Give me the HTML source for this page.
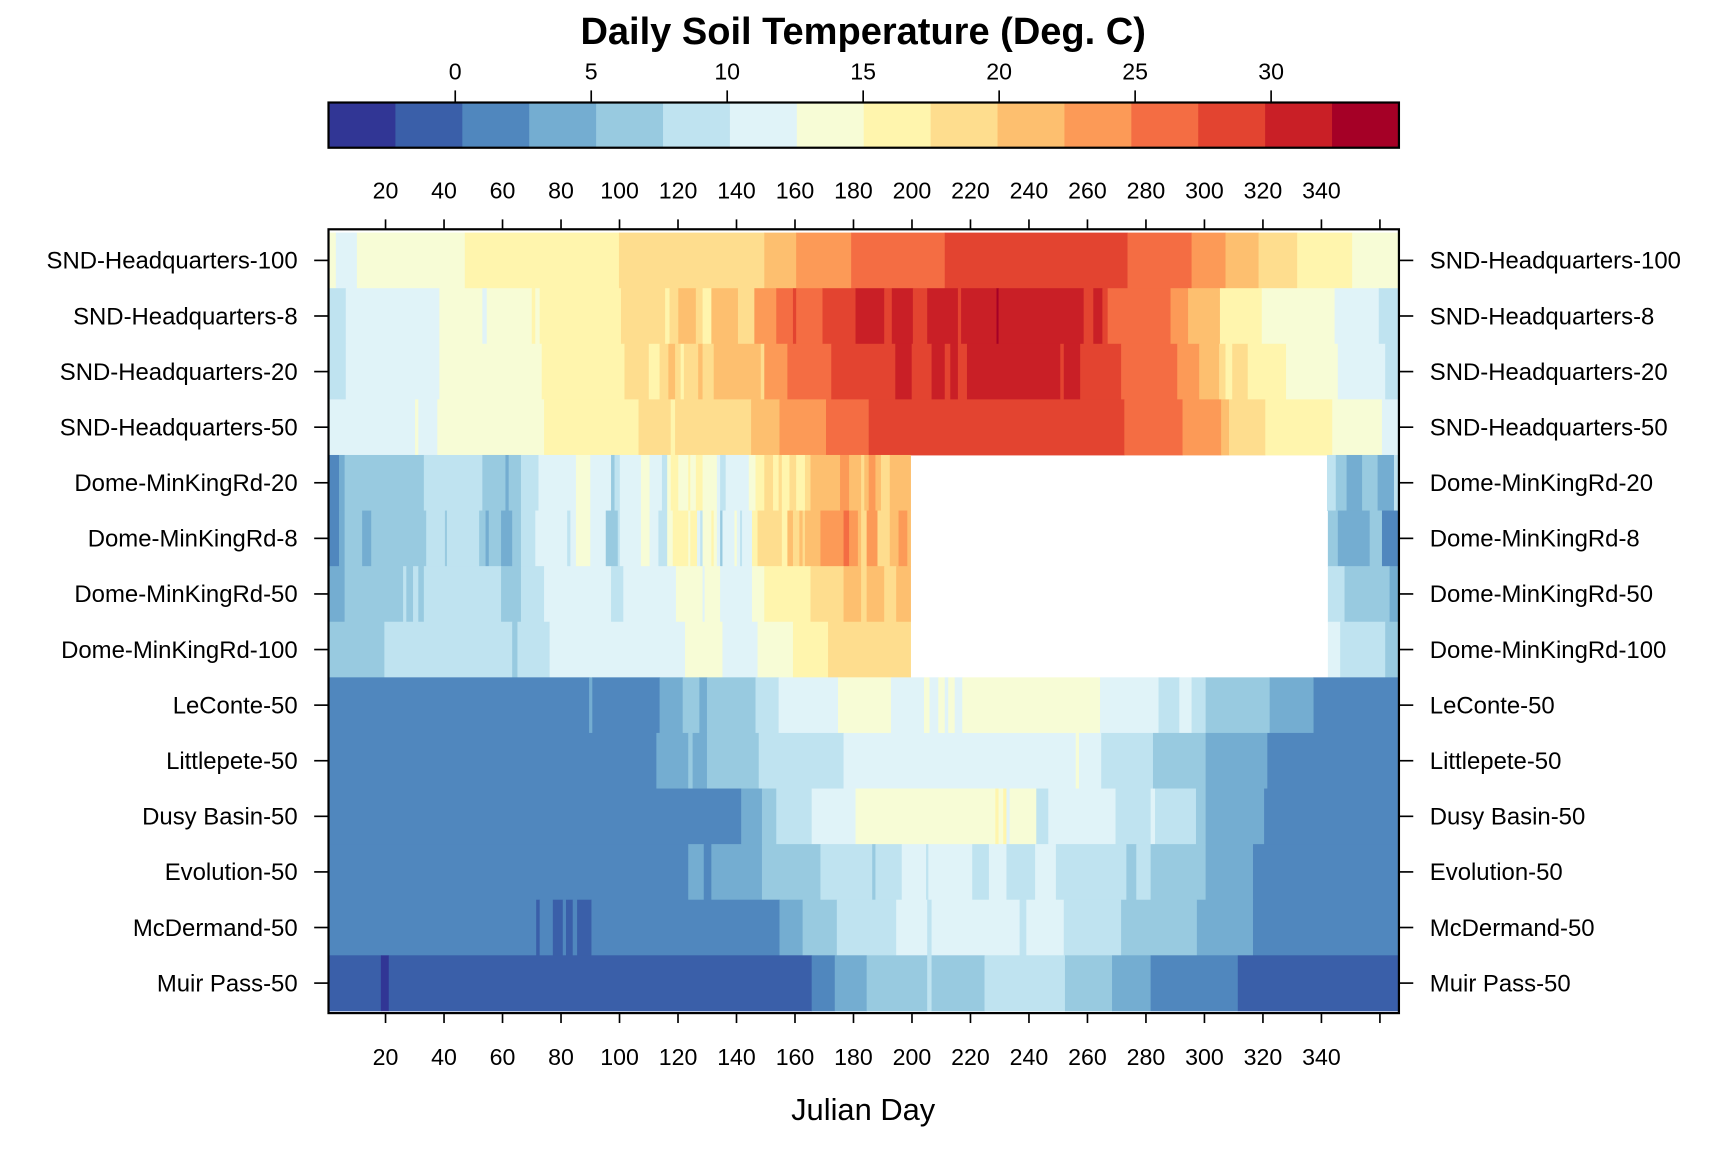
<!DOCTYPE html>
<html><head><meta charset="utf-8"><style>
html,body{margin:0;padding:0;background:#fff;}
svg{display:block;font-family:"Liberation Sans",Arial,sans-serif;}
</style></head><body>
<svg id="chart" width="1728" height="1152" viewBox="0 0 1567.5 1045" preserveAspectRatio="none" xmlns="http://www.w3.org/2000/svg">
<text x="783" y="40" text-anchor="middle" font-size="34.5" font-weight="bold">Daily Soil Temperature (Deg. C)</text>
<g id="colorbar"></g>
<g id="cells"></g>
<g id="axes"></g>
<text x="783" y="1016" text-anchor="middle" font-size="28">Julian Day</text>
</svg>
<script>
const NS="http://www.w3.org/2000/svg";
const rowNames=["SND-Headquarters-100","SND-Headquarters-8","SND-Headquarters-20","SND-Headquarters-50","Dome-MinKingRd-20","Dome-MinKingRd-8","Dome-MinKingRd-50","Dome-MinKingRd-100","LeConte-50","Littlepete-50","Dusy Basin-50","Evolution-50","McDermand-50","Muir Pass-50"];
const colorBreaks=[-4.66,-2.2,0.26,2.72,5.18,7.64,10.1,12.56,15.02,17.48,19.94,22.4,24.86,27.32,29.78,32.24,34.7];
const colorPalette=["#313695","#3A5FA9","#5087BE","#74ADD1","#98CAE0","#BFE3F0","#E0F3F8","#F7FCD6","#FFF5AD","#FEDD8E","#FDBF6F","#FC9A57","#F46D43","#E34430","#C91F26","#A50026"];
const colorTicks=[0,5,10,15,20,25,30];
const dayTicks=[20,40,60,80,100,120,140,160,180,200,220,240,260,280,300,320,340,360];
const dayTickLabels=["20","40","60","80","100","120","140","160","180","200","220","240","260","280","300","320","340",""];
// segment start days per row
const segStarts=[
[0.5,3.0,10.2,47.1,99.8,149.5,160.4,179.2,211.2,273.7,295.6,307.2,318.5,331.7,350.5],
[0.5,6.4,38.4,53.1,54.6,70.0,71.2,72.7,100.5,115.6,117.1,120.1,126.1,128.4,131.4,140.5,146.1,153.6,159.3,160.4,169.4,180.7,190.5,193.1,200.3,205.2,215.7,216.8,228.9,229.6,258.7,262.0,265.1,266.9,288.4,294.4,305.3,319.6,344.5,359.6],
[0.5,6.4,38.4,73.4,101.7,110.0,113.7,116.7,119.0,120.9,122.0,126.9,128.4,132.2,148.3,149.5,157.4,172.4,194.3,199.9,206.7,211.2,213.1,215.7,218.8,250.7,251.9,257.5,271.5,290.7,298.2,305.0,307.2,309.5,314.8,327.9,345.6,361.8],
[0.5,30.1,31.2,37.7,74.2,106.5,117.5,119.0,145.0,154.7,170.6,185.2,272.6,292.5,305.7,308.4,320.8,343.7,360.7],
[0.5,4.1,6.0,33.1,53.1,61.0,62.1,66.3,72.3,85.1,90.0,97.1,98.3,100.1,107.3,110.3,114.5,116.3,117.5,120.1,123.5,124.2,126.1,128.4,133.3,134.4,136.3,144.2,146.5,149.5,152.5,154.4,155.5,158.1,160.4,163.4,165.3,175.4,178.5,182.6,183.7,185.2,187.5,189.4,192.4,199.5,341.9,344.9,348.6,353.9,359.2,364.8],
[0.5,4.1,6.0,12.0,15.1,33.9,40.3,41.0,52.0,54.2,55.3,59.5,63.3,66.3,71.2,82.1,83.2,85.1,90.0,95.3,99.4,100.1,107.3,110.3,113.3,116.3,118.2,123.5,124.2,126.5,127.6,128.4,131.4,132.2,133.3,134.4,135.2,139.3,140.1,141.2,141.9,145.3,147.2,155.5,157.4,159.3,161.5,162.6,163.4,168.7,176.6,178.5,181.5,182.6,184.5,188.2,192.4,195.4,198.4,199.5,342.2,345.6,356.5,360.7],
[0.5,6.0,26.0,27.1,29.4,31.2,33.1,59.5,66.3,74.2,97.1,101.3,119.3,128.4,129.1,134.4,145.3,149.5,165.3,176.6,182.6,184.5,190.5,194.6,199.5,342.2,347.9,363.3],
[0.5,19.6,63.3,65.1,76.1,122.4,135.2,147.2,159.3,171.3,199.5,342.2,346.4,361.8],
[0.5,89.6,90.7,113.7,121.6,127.3,129.9,146.5,154.4,174.7,192.8,204.1,206.0,209.0,211.2,212.4,214.6,217.2,264.3,284.3,291.4,295.6,300.4,322.3,337.3],
[0.5,112.6,123.5,125.0,129.9,147.6,176.6,256.0,257.1,264.7,282.4,300.4,321.5],
[0.5,141.6,148.7,153.6,165.7,180.7,228.5,229.6,231.2,232.3,233.4,242.5,246.6,269.6,281.6,283.1,297.1,300.4,320.4],
[0.5,123.5,128.8,131.4,148.7,168.7,186.4,187.5,196.5,204.8,205.6,220.6,226.3,232.3,242.1,249.2,273.3,276.7,281.6,300.4,316.6],
[0.5,71.5,72.7,77.2,80.6,81.7,84.0,85.5,90.4,154.7,162.6,174.3,194.6,205.2,206.7,236.8,239.1,251.9,271.5,297.4,316.6],
[0.5,18.4,21.1,165.7,173.6,184.5,205.2,206.7,224.8,252.3,268.4,281.6,311.4]
];
// temperature (deg C) of each segment; null = missing
const segTemps=[
[13.8,11.3,13.8,16.2,18.7,21.1,23.6,26.1,28.5,26.1,23.6,21.1,18.7,16.2,13.8],
[8.9,11.3,13.8,11.3,13.8,16.2,13.8,16.2,18.7,16.2,18.7,21.1,18.7,16.2,21.1,18.7,23.6,26.1,28.5,26.1,28.5,31.0,28.5,31.0,28.5,31.0,28.5,31.0,33.4,31.0,28.5,31.0,28.5,26.1,23.6,21.1,16.2,13.8,11.3,8.9],
[8.9,11.3,13.8,16.2,18.7,16.2,18.7,21.1,18.7,16.2,18.7,21.1,18.7,21.1,18.7,23.6,26.1,28.5,31.0,28.5,31.0,28.5,31.0,28.5,31.0,28.5,31.0,28.5,26.1,23.6,21.1,18.7,16.2,18.7,16.2,13.8,11.3,8.9],
[11.3,13.8,11.3,13.8,16.2,18.7,16.2,18.7,21.1,23.6,26.1,28.5,26.1,23.6,21.1,18.7,16.2,13.8,11.3],
[1.5,3.9,6.4,8.9,6.4,3.9,6.4,8.9,11.3,13.8,11.3,6.4,8.9,11.3,13.8,11.3,8.9,13.8,16.2,13.8,16.2,13.8,16.2,13.8,11.3,8.9,11.3,13.8,16.2,18.7,16.2,18.7,16.2,18.7,16.2,18.7,21.1,23.6,21.1,18.7,21.1,23.6,21.1,18.7,21.1,null,8.9,6.4,3.9,6.4,3.9,8.9],
[1.5,3.9,6.4,3.9,6.4,8.9,6.4,8.9,6.4,3.9,6.4,3.9,6.4,8.9,11.3,8.9,11.3,13.8,11.3,6.4,8.9,11.3,13.8,11.3,8.9,13.8,16.2,13.8,16.2,11.3,8.9,13.8,16.2,13.8,11.3,6.4,11.3,13.8,11.3,8.9,11.3,16.2,18.7,16.2,21.1,18.7,21.1,18.7,21.1,23.6,26.1,23.6,21.1,18.7,23.6,18.7,21.1,23.6,21.1,null,6.4,3.9,6.4,1.5],
[3.9,6.4,8.9,6.4,8.9,6.4,8.9,6.4,8.9,11.3,8.9,11.3,13.8,11.3,13.8,11.3,13.8,16.2,18.7,21.1,18.7,21.1,18.7,21.1,null,8.9,6.4,3.9],
[6.4,8.9,6.4,8.9,11.3,13.8,11.3,13.8,16.2,18.7,null,11.3,8.9,6.4],
[1.5,3.9,1.5,3.9,6.4,3.9,6.4,8.9,11.3,13.8,11.3,13.8,11.3,13.8,11.3,13.8,11.3,13.8,11.3,8.9,11.3,8.9,6.4,3.9,1.5],
[1.5,3.9,6.4,3.9,6.4,8.9,11.3,13.8,11.3,8.9,6.4,3.9,1.5],
[1.5,3.9,6.4,8.9,11.3,13.8,16.2,13.8,16.2,11.3,13.8,8.9,11.3,8.9,11.3,8.9,6.4,3.9,1.5],
[1.5,3.9,1.5,3.9,6.4,8.9,6.4,8.9,11.3,8.9,11.3,8.9,11.3,8.9,11.3,8.9,6.4,8.9,6.4,3.9,1.5],
[1.5,-1.0,1.5,-1.0,1.5,-1.0,1.5,-1.0,1.5,3.9,6.4,8.9,11.3,8.9,11.3,8.9,11.3,8.9,6.4,3.9,1.5],
[-1.0,-3.4,-1.0,1.5,3.9,6.4,8.9,6.4,8.9,6.4,3.9,1.5,-1.0]
];
const dayMax=366.5;

const P={l:298,r:1269,t:211,b:917};
const CB={l:298,r:1269,t:93,b:134};
const xDay=d=>P.l+(d-0.5)/(dayMax-0.5)*(P.r-P.l);
const rowH=(P.b-P.t)/rowNames.length;
const yRow=i=>P.t+i*rowH;
const cbMin=colorBreaks[0],cbMax=colorBreaks[colorBreaks.length-1];
const xCb=v=>CB.l+(v-cbMin)/(cbMax-cbMin)*(CB.r-CB.l);
function colorOf(v){for(let k=0;k<colorPalette.length;k++){if(v<colorBreaks[k+1])return colorPalette[k];}return colorPalette[colorPalette.length-1];}
function mk(tag,attrs,parent){const e=document.createElementNS(NS,tag);for(const k in attrs)e.setAttribute(k,attrs[k]);parent.appendChild(e);return e;}

const cb=document.getElementById('colorbar');
for(let k=0;k<colorPalette.length;k++){
  const x0=xCb(colorBreaks[k]),x1=xCb(colorBreaks[k+1]);
  const r=mk('rect',{x:x0,y:CB.t,width:x1-x0+0.5,height:CB.b-CB.t,fill:colorPalette[k]},cb);
  
  
}
const cbBorder=mk('rect',{x:CB.l,y:CB.t,width:CB.r-CB.l,height:CB.b-CB.t,fill:'none',stroke:'#000','stroke-width':2},cb);


colorTicks.forEach(v=>{
  const x=xCb(v);
  const t=mk('line',{x1:x,x2:x,y1:CB.t-11,y2:CB.t,stroke:'#000','stroke-width':1.5},cb);
  
  
  const l=mk('text',{x:x,y:CB.t-21,'text-anchor':'middle','font-size':21},cb);
  l.textContent=v;
  
  
});

const cells=document.getElementById('cells');
segStarts.forEach((starts,i)=>{
  starts.forEach((s,j)=>{
    const v=segTemps[i][j];
    if(v===null)return;
    const e=j+1<starts.length?starts[j+1]:dayMax;
    const x0=xDay(s),x1=xDay(e);
    const r=mk('rect',{x:x0,y:yRow(i),width:x1-x0+0.4,height:rowH+0.4,fill:colorOf(v)},cells);
    
    
  });
});

const ax=document.getElementById('axes');
const box=mk('rect',{x:P.l,y:P.t-3,width:P.r-P.l,height:P.b-P.t+5,fill:'none',stroke:'#000','stroke-width':2},ax);


dayTicks.forEach((d,k)=>{
  const x=xDay(d);
  const tt=mk('line',{x1:x,x2:x,y1:P.t-12,y2:P.t-3,stroke:'#000','stroke-width':1.5},ax);
  
  
  const tb=mk('line',{x1:x,x2:x,y1:P.b+2,y2:P.b+11,stroke:'#000','stroke-width':1.5},ax);
  
  
  const lt=mk('text',{x:x,y:180,'text-anchor':'middle','font-size':21},ax);
  lt.textContent=dayTickLabels[k];
  
  
  const lb=mk('text',{x:x,y:966,'text-anchor':'middle','font-size':21},ax);
  lb.textContent=dayTickLabels[k];
  
  
});
rowNames.forEach((n,i)=>{
  const y=yRow(i)+rowH/2;
  const tl=mk('line',{x1:P.l-13,x2:P.l,y1:y,y2:y,stroke:'#000','stroke-width':1.5},ax);
  
  
  const tr=mk('line',{x1:P.r,x2:P.r+13,y1:y,y2:y,stroke:'#000','stroke-width':1.5},ax);
  
  
  const ll=mk('text',{x:270,y:y+7.5,'text-anchor':'end','font-size':21.7},ax);
  ll.textContent=n;
  
  
  const lr=mk('text',{x:1297,y:y+7.5,'text-anchor':'start','font-size':21.7},ax);
  lr.textContent=n;
  
  
});
</script>
</body></html>
